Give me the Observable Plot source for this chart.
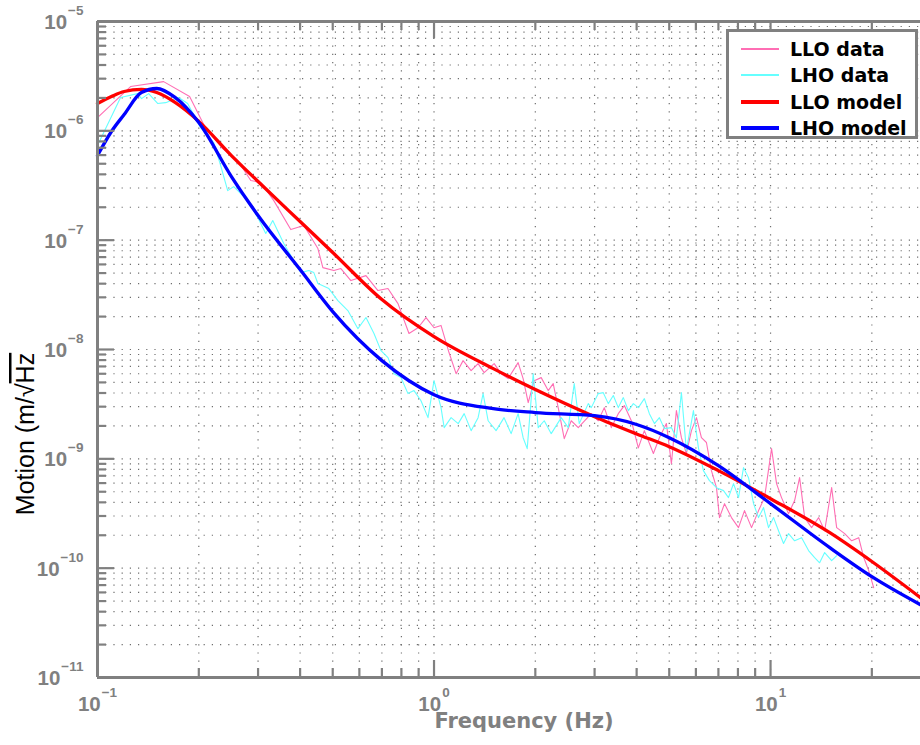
<!DOCTYPE html>
<html>
<head>
<meta charset="utf-8">
<script src="https://cdn.jsdelivr.net/npm/d3@7"></script>
<script src="https://cdn.jsdelivr.net/npm/@observablehq/plot@0.6"></script>
<style>
  html, body { margin: 0; padding: 0; background: #fff; }
  #wrap { position: relative; width: 920px; height: 745px; overflow: hidden; }
  #legend {
    position: absolute; left: 726px; top: 29px; width: 186px; height: 104px;
    border: 3px solid #808080; background: #fff;
    font-family: "DejaVu Sans", sans-serif; font-weight: bold; font-size: 19px; color: #000;
  }
  .row { position: absolute; left: 0; height: 26px; }
  .sw { position: absolute; left: 12px; width: 38px; }
  .lab { position: absolute; left: 61px; white-space: nowrap; line-height: 26px; }
</style>
</head>
<body>
<div id="wrap"></div>
<script>
// ---- axes / ticks ----
const xDomain = [0.1, 27.9];
const yDomain = [1e-11, 1e-5];
const decadesX = [0.1, 1, 10];
const decadesY = [1e-11, 1e-10, 1e-9, 1e-8, 1e-7, 1e-6, 1e-5];
const multipliers = [2, 3, 4, 5, 6, 7, 8, 9];
const xExponents = [-1, 0, 1];
const yExponents = [-11, -10, -9, -8, -7, -6, -5];
const xMinor = decadesX.flatMap(d => multipliers.map(m => m * d)).filter(v => v <= xDomain[1]);
const yMinor = decadesY.slice(0, -1).flatMap(d => multipliers.map(m => m * d));

// ---- series ----
const seriesNames = ["LLO data", "LHO data", "LLO model", "LHO model"];
const seriesColors = ["#ff6eb4", "#66ffff", "#ff0000", "#0000ff"];

const modelF = [0.1, 0.11, 0.12, 0.135, 0.15, 0.17, 0.2, 0.25, 0.3, 0.4, 0.5, 0.7, 1, 1.5, 2, 3, 4, 5, 7, 10, 15, 20, 27.9];
const lloModel = [1.78e-6, 2.06e-6, 2.29e-6, 2.39e-6, 2.24e-6, 1.82e-6, 1.22e-6, 5.94e-7, 3.44e-7, 1.48e-7, 7.71e-8, 2.86e-8, 1.31e-8, 6.68e-9, 4.30e-9, 2.43e-9, 1.69e-9, 1.29e-9, 7.80e-10, 4.32e-10, 2.11e-10, 1.15e-10, 5.37e-11];
const lhoModel = [5.94e-7, 9.86e-7, 1.41e-6, 2.24e-6, 2.44e-6, 2.02e-6, 1.19e-6, 3.82e-7, 1.68e-7, 5.38e-8, 2.22e-8, 7.91e-9, 3.86e-9, 2.88e-9, 2.65e-9, 2.48e-9, 2.06e-9, 1.56e-9, 8.67e-10, 3.89e-10, 1.54e-10, 8.36e-11, 4.63e-11];

// [frequency (Hz), motion (m/√Hz)]
const lloData = [[0.1,1.32e-6],[0.1254,2.54e-6],[0.1572,2.82e-6],[0.1878,2.06e-6],[0.2097,1.05e-6],[0.2355,6.89e-7],[0.2610,5.35e-7],[0.2854,3.51e-7],[0.3056,3.37e-7],[0.3341,2.30e-7],[0.3753,1.25e-7],[0.4104,1.36e-7],[0.4518,8.38e-8],[0.4674,5.61e-8],[0.5040,5.27e-8],[0.5287,5.50e-8],[0.5662,4.27e-8],[0.6277,4.74e-8],[0.6813,3.46e-8],[0.7297,3.61e-8],[0.7815,2.63e-8],[0.8425,1.40e-8],[0.8963,1.58e-8],[0.9467,1.96e-8],[1.0,1.58e-8],[1.049,1.66e-8],[1.108,9.38e-9],[1.163,6.01e-9],[1.220,7.91e-9],[1.289,6.41e-9],[1.352,7.43e-9],[1.409,6.15e-9],[1.509,7.43e-9],[1.583,6.01e-9],[1.661,5.42e-9],[1.778,7.59e-9],[1.840,5.42e-9],[1.905,3.27e-9],[1.984,5.19e-9],[2.082,5.53e-9],[2.184,4.21e-9],[2.260,4.88e-9],[2.339,2.94e-9],[2.438,1.53e-9],[2.557,2.23e-9],[2.683,1.93e-9],[2.933,2.59e-9],[3.077,2.23e-9],[3.206,2.94e-9],[3.364,1.93e-9],[3.528,2.59e-9],[3.678,3.07e-9],[3.858,2.23e-9],[4.047,1.26e-9],[4.217,1.81e-9],[4.486,1.12e-9],[4.674,1.56e-9],[4.904,2.10e-9],[5.074,9.03e-10],[5.251,2.76e-9],[5.434,1.56e-9],[5.623,1.12e-9],[5.820,1.81e-9],[6.024,2.38e-9],[6.232,1.56e-9],[6.449,1.41e-9],[6.673,7.80e-10],[6.908,5.45e-10],[7.051,2.90e-10],[7.299,3.89e-10],[7.654,2.90e-10],[8.032,2.35e-10],[8.369,3.36e-10],[8.781,2.35e-10],[9.211,3.36e-10],[9.597,4.42e-10],[10.07,1.24e-9],[10.42,5.93e-10],[10.78,4.42e-10],[11.31,3.15e-10],[11.79,4.15e-10],[12.20,6.73e-10],[12.63,2.90e-10],[13.24,2.35e-10],[13.90,2.90e-10],[14.48,2.20e-10],[15.19,5.45e-10],[15.72,2.35e-10],[16.61,2.07e-10],[17.42,1.78e-10],[18.28,1.90e-10],[18.92,1.25e-10],[19.58,9.49e-11],[20.25,6.63e-11]];

const lhoData = [[0.1,7.34e-7],[0.1171,2.02e-6],[0.1315,2.19e-6],[0.1352,1.97e-6],[0.1419,2.19e-6],[0.1509,1.78e-6],[0.1594,1.81e-6],[0.1742,2.02e-6],[0.1853,1.78e-6],[0.2025,1.07e-6],[0.2214,7.82e-7],[0.2323,4.81e-7],[0.2437,2.84e-7],[0.2540,3.09e-7],[0.2796,2.30e-7],[0.2994,1.61e-7],[0.3162,1.15e-7],[0.3317,1.51e-7],[0.3577,9.31e-8],[0.4019,5.05e-8],[0.4246,5.27e-8],[0.4394,5.05e-8],[0.4518,4.01e-8],[0.4870,3.61e-8],[0.5180,2.80e-8],[0.5546,2.27e-8],[0.5941,1.55e-8],[0.6277,1.96e-8],[0.6631,1.40e-8],[0.6955,9.77e-9],[0.7299,8.43e-9],[0.7603,6.01e-9],[0.7977,5.53e-9],[0.8369,3.95e-9],[0.8720,4.21e-9],[0.9147,3.40e-9],[0.9596,2.38e-9],[1.0,5.19e-9],[1.049,2.94e-9],[1.072,1.93e-9],[1.124,2.38e-9],[1.180,2.10e-9],[1.229,2.59e-9],[1.289,1.81e-9],[1.352,2.38e-9],[1.399,3.95e-9],[1.448,2.23e-9],[1.529,1.81e-9],[1.615,2.38e-9],[1.695,1.70e-9],[1.778,2.59e-9],[1.840,1.56e-9],[1.892,1.24e-9],[1.971,6.01e-9],[2.040,1.93e-9],[2.126,2.23e-9],[2.230,1.70e-9],[2.388,2.38e-9],[2.505,1.93e-9],[2.610,4.88e-9],[2.701,2.10e-9],[2.873,3.20e-9],[2.933,2.94e-9],[3.077,3.95e-9],[3.184,4.03e-9],[3.295,3.20e-9],[3.410,3.79e-9],[3.528,2.94e-9],[3.652,3.63e-9],[3.780,2.76e-9],[3.911,3.20e-9],[4.047,2.94e-9],[4.217,3.55e-9],[4.364,2.59e-9],[4.518,2.10e-9],[4.674,2.38e-9],[4.837,1.89e-9],[5.074,1.93e-9],[5.251,1.56e-9],[5.434,4.03e-9],[5.623,1.19e-9],[5.900,2.76e-9],[6.105,1.26e-9],[6.318,7.80e-10],[6.583,6.32e-10],[6.908,5.45e-10],[7.249,5.12e-10],[7.499,4.42e-10],[7.761,5.93e-10],[8.032,4.42e-10],[8.311,8.31e-10],[8.602,6.73e-10],[8.902,3.89e-10],[9.211,2.90e-10],[9.533,3.58e-10],[9.863,2.35e-10],[10.21,2.90e-10],[10.56,2.20e-10],[10.93,1.68e-10],[11.31,2.07e-10],[11.79,1.78e-10],[12.37,1.90e-10],[12.97,1.45e-10],[13.52,1.25e-10],[13.99,1.12e-10],[14.48,1.39e-10],[15.19,1.17e-10],[15.72,1.30e-10]];

const xTitle = "Frequency (Hz)";
const yTitleParts = ["Motion (m/\u221A", "Hz"];

// ---- build ----
const W = 920, H = 745, mL = 97, mT = 21, mB = 68, mR = 0;
const plotH = H - mT - mB, plotW = W - mL - mR;
const lloModelT = modelF.map((f, i) => ({f, v: lloModel[i]}));
const lhoModelT = modelF.map((f, i) => ({f, v: lhoModel[i]}));
const fmtExp = e => (e < 0 ? "\u2212" + Math.abs(e) : String(e));
const axisGray = "#808080";
const tickFont = "Liberation Sans, Arial, sans-serif";
const gridX = xMinor.concat([1, 10]);
const gridY = yMinor.concat(decadesY.slice(1, -1));

const chart = Plot.plot({
  width: W, height: H,
  marginLeft: mL, marginRight: mR, marginTop: mT, marginBottom: mB,
  x: {type: "log", domain: xDomain, axis: null},
  y: {type: "log", domain: yDomain, axis: null},
  style: {background: "#fff", fontFamily: tickFont, overflow: "visible"},
  marks: [
    Plot.ruleX(gridX, {stroke: "#555", strokeWidth: 1.2, strokeDasharray: "1.2,7", strokeOpacity: 0.85}),
    Plot.ruleY(gridY, {stroke: "#555", strokeWidth: 1.2, strokeDasharray: "1.2,7", strokeOpacity: 0.85}),
    Plot.line(lloData, {x: d => d[0], y: d => d[1], stroke: seriesColors[0], strokeWidth: 1.1}),
    Plot.line(lhoData, {x: d => d[0], y: d => d[1], stroke: seriesColors[1], strokeWidth: 1.1}),
    Plot.line(lloModelT, {x: "f", y: "v", stroke: seriesColors[2], strokeWidth: 3.3, curve: "monotone-x"}),
    Plot.line(lhoModelT, {x: "f", y: "v", stroke: seriesColors[3], strokeWidth: 3.3, curve: "monotone-x"}),
    // inward ticks
    Plot.ruleX(xMinor, {insetTop: plotH - 9, stroke: axisGray, strokeWidth: 2.2}),
    Plot.ruleX(xMinor, {insetBottom: plotH - 9, stroke: axisGray, strokeWidth: 2.2}),
    Plot.ruleX(decadesX, {insetTop: plotH - 17, stroke: axisGray, strokeWidth: 2.2}),
    Plot.ruleX(decadesX, {insetBottom: plotH - 17, stroke: axisGray, strokeWidth: 2.2}),
    Plot.ruleY(yMinor, {insetRight: plotW - 9, stroke: axisGray, strokeWidth: 2.2}),
    Plot.ruleY(decadesY, {insetRight: plotW - 17, stroke: axisGray, strokeWidth: 2.2}),
    // box
    Plot.ruleX([xDomain[0]], {stroke: axisGray, strokeWidth: 3}),
    Plot.ruleY(yDomain, {stroke: axisGray, strokeWidth: 3}),
    // tick labels
    Plot.text(yExponents, {x: xDomain[0], y: e => Math.pow(10, e), text: e => "10^" + fmtExp(e),
      textAnchor: "end", dx: -14, dy: 1, fontSize: 20.5, fontWeight: "bold", fill: axisGray}),
    Plot.text(xExponents, {x: e => Math.pow(10, e), y: yDomain[0], text: e => "10^" + fmtExp(e),
      textAnchor: "middle", dy: 27, fontSize: 20.5, fontWeight: "bold", fill: axisGray}),
    // x title
    Plot.text([xTitle], {frameAnchor: "bottom", lineAnchor: "middle", dx: 15, dy: 44, fontSize: 21, fontWeight: "bold",
      fill: axisGray, fontFamily: "DejaVu Sans, sans-serif"})
  ]
});

// superscript exponents
d3.select(chart).selectAll("text").each(function () {
  const t = this.textContent;
  const sel = d3.select(this);
  if (t.startsWith("10^")) {
    const exp = t.slice(3);
    sel.text(null);
    sel.append("tspan").text("10");
    sel.append("tspan").attr("dy", -14).attr("dx", 1).style("font-size", "13.5px").text(exp);
  }
});

// y title with overlined radicand
const yt = d3.select(chart).append("text")
  .attr("transform", "translate(34,434) rotate(-90)")
  .attr("text-anchor", "middle")
  .attr("font-family", "Liberation Sans, Arial, sans-serif")
  .attr("font-size", 25)
  .attr("fill", "#000");
yt.append("tspan").text(yTitleParts[0]);
yt.append("tspan").style("text-decoration", "overline").text(yTitleParts[1]);

const wrap = document.getElementById("wrap");
wrap.appendChild(chart);

// legend
const legend = document.createElement("div");
legend.id = "legend";
const widths = [1.2, 1.2, 4, 4];
const rowTops = [4, 30, 57, 83];
seriesNames.forEach((name, i) => {
  const row = document.createElement("div");
  row.className = "row";
  row.style.top = rowTops[i] + "px";
  const sw = document.createElement("div");
  sw.className = "sw";
  sw.style.top = (13 - widths[i] / 2) + "px";
  sw.style.height = widths[i] + "px";
  sw.style.background = seriesColors[i];
  const lab = document.createElement("div");
  lab.className = "lab";
  lab.style.top = "0px";
  lab.textContent = name;
  row.appendChild(sw);
  row.appendChild(lab);
  legend.appendChild(row);
});
wrap.appendChild(legend);
</script>
</body>
</html>
